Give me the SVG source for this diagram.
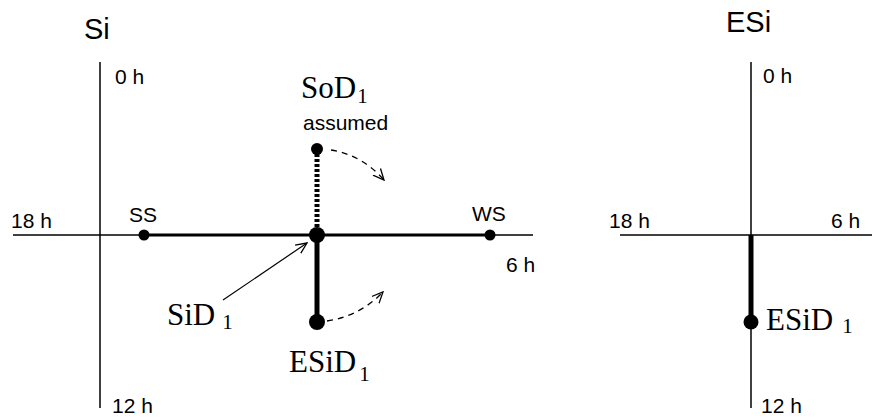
<svg xmlns="http://www.w3.org/2000/svg" width="872" height="419" viewBox="0 0 872 419">
<style>
.ax{stroke:#000;stroke-width:1.5;fill:none}
.thick{stroke:#000;stroke-width:3;fill:none}
.bar{stroke:#000;stroke-width:5;fill:none}
.dash{stroke:#000;stroke-width:1.3;fill:none;stroke-dasharray:6 5}
.sans{font-family:"Liberation Sans",Arial,sans-serif;fill:#000;font-size:21px}
.title{font-family:"Liberation Sans",Arial,sans-serif;fill:#000;font-size:29px}
.serif{font-family:"Liberation Serif","Times New Roman",serif;fill:#000;font-size:31px}
.sub{font-size:21px}
</style>
<defs>
<marker id="open" viewBox="0 0 12 12" refX="11" refY="6" markerWidth="12" markerHeight="12" markerUnits="userSpaceOnUse" orient="auto">
<path d="M0,1 L11,6 L0,11" fill="none" stroke="#000" stroke-width="1.3"/>
</marker>
</defs>
<rect width="872" height="419" fill="#fff"/>
<g id="axes-si">
<line class="ax" x1="100" y1="62" x2="100" y2="408"/>
<line class="ax" x1="13" y1="235" x2="533" y2="235"/>
<text class="title" x="84" y="39">Si</text>
<text class="sans" x="115" y="84">0 h</text>
<text class="sans" x="11" y="228">18 h</text>
<text class="sans" x="506" y="272">6 h</text>
<text class="sans" x="112" y="413">12 h</text>
</g>
<g id="connectors">
<line class="thick" x1="144" y1="235" x2="490" y2="235"/>
<line stroke="#000" stroke-width="5" stroke-dasharray="3 2" x1="317" y1="154" x2="317" y2="229"/>
<line class="bar" x1="317" y1="235" x2="317" y2="322"/>
<path class="dash" d="M331,150 Q362,155 384,180" marker-end="url(#open)"/>
<path class="dash" d="M327,321 Q360,316 383,292" marker-end="url(#open)"/>
<line stroke="#000" stroke-width="1.2" x1="223" y1="300" x2="307" y2="243" marker-end="url(#open)"/>
<line class="bar" x1="751" y1="235" x2="751" y2="322"/>
</g>
<g id="node-ss">
<circle cx="144" cy="235" r="5.5"/>
<text class="sans" x="129" y="222">SS</text>
</g>
<g id="node-ws">
<circle cx="490" cy="235" r="5.5"/>
<text class="sans" x="472" y="221">WS</text>
</g>
<g id="node-sod1">
<circle cx="317" cy="149" r="6"/>
<text class="serif" x="301" y="98" font-size="33">SoD<tspan class="sub" dx="1" dy="5">1</tspan></text>
<text class="sans" x="303" y="130">assumed</text>
</g>
<g id="node-sid1">
<circle cx="317" cy="235" r="8"/>
<text class="serif" x="167" y="325">SiD<tspan class="sub" dx="7" dy="4">1</tspan></text>
</g>
<g id="node-esid1">
<circle cx="317" cy="322" r="8"/>
<text class="serif" x="289" y="372">ESiD<tspan class="sub" dx="3" dy="9">1</tspan></text>
</g>
<g id="axes-esi">
<line class="ax" x1="751" y1="62" x2="751" y2="408"/>
<line class="ax" x1="620" y1="235" x2="872" y2="235"/>
<text class="title" x="726" y="32">ESi</text>
<text class="sans" x="763" y="83">0 h</text>
<text class="sans" x="609" y="228">18 h</text>
<text class="sans" x="831" y="228">6 h</text>
<text class="sans" x="761" y="413">12 h</text>
</g>
<g id="node-esid1-right">
<circle cx="751" cy="322" r="7.5"/>
<text class="serif" x="766" y="330">ESiD<tspan class="sub" dx="9" dy="3">1</tspan></text>
</g>
</svg>
